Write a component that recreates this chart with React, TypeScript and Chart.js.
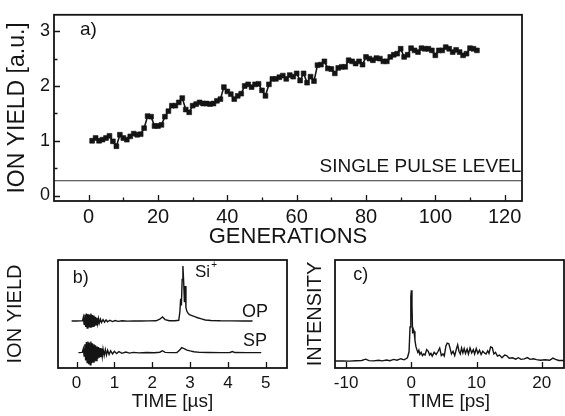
import React, { useEffect, useRef } from "react";
import { Chart, registerables } from "chart.js";

Chart.register(...registerables);

const FONT = "'Liberation Sans', Arial, Helvetica, sans-serif";
const INK = "#141414";

// ---------- Panel a) ion yield vs. generations ----------
const A_GENERATIONS = [
  1, 2, 3, 4, 5, 6, 7, 8, 9, 10, 11, 12, 13, 14, 15, 16, 17, 18, 19, 20,
  21, 22, 23, 24, 25, 26, 27, 28, 29, 30, 31, 32, 33, 34, 35, 36, 37, 38, 39, 40,
  41, 42, 43, 44, 45, 46, 47, 48, 49, 50, 51, 52, 53, 54, 55, 56, 57, 58, 59, 60,
  61, 62, 63, 64, 65, 66, 67, 68, 69, 70, 71, 72, 73, 74, 75, 76, 77, 78, 79, 80,
  81, 82, 83, 84, 85, 86, 87, 88, 89, 90, 91, 92, 93, 94, 95, 96, 97, 98, 99, 100,
  101, 102, 103, 104, 105, 106, 107, 108, 109, 110, 111, 112,
];
const A_ION_YIELD = [
  1.0, 1.05, 1.0, 1.02, 1.05, 1.09, 0.99, 0.9, 1.11, 1.05,
  1.02, 1.08, 1.13, 1.11, 1.12, 1.23, 1.45, 1.44, 1.27, 1.27,
  1.29, 1.44, 1.54, 1.64, 1.64, 1.7, 1.78, 1.57, 1.52, 1.64,
  1.67, 1.7, 1.68, 1.68, 1.67, 1.68, 1.73, 1.76, 1.98, 1.9,
  1.85, 1.76, 1.82, 1.86, 2.0, 2.03, 1.98, 2.03, 2.04, 1.92,
  1.82, 2.03, 2.13, 2.13, 2.16, 2.19, 2.13, 2.2, 2.17, 2.23,
  2.1, 2.23, 2.06, 2.17, 2.09, 2.38, 2.39, 2.45, 2.32, 2.31,
  2.23, 2.33, 2.35, 2.35, 2.47, 2.45, 2.41, 2.45, 2.39, 2.53,
  2.5, 2.47, 2.51, 2.5, 2.45, 2.45, 2.53, 2.57, 2.59, 2.68,
  2.53, 2.57, 2.69, 2.65, 2.62, 2.69, 2.68, 2.68, 2.65, 2.56,
  2.65, 2.65, 2.71, 2.68, 2.62, 2.66, 2.62, 2.56, 2.59, 2.69, 2.68, 2.65,
];
const A_SINGLE_PULSE_LEVEL = 0.27;
const A_X_RANGE = [-10, 125];
const A_Y_RANGE = [-0.1, 3.3];
const A_X_TICKS = [0, 20, 40, 60, 80, 100, 120];
const A_X_MINOR = [10, 30, 50, 70, 90, 110];
const A_Y_TICKS = [0, 1, 2, 3];
const A_Y_MINOR = [0.5, 1.5, 2.5];

// ---------- Panel b) time-of-flight traces ----------
const B_OP_TIME = [
  -0.13, 0.0, 0.1, 0.16, 0.18, 0.2, 0.22, 0.24, 0.26, 0.28, 0.3, 0.32, 0.34, 0.36, 0.38, 0.4,
  0.42, 0.44, 0.46, 0.48, 0.5, 0.52, 0.54, 0.56, 0.58, 0.6, 0.63, 0.66, 0.7, 0.74, 0.78, 0.82,
  0.88, 0.95, 1.02, 1.1, 1.2, 1.35, 1.5, 1.7, 1.9, 2.1, 2.2, 2.27, 2.34, 2.45, 2.6, 2.7,
  2.73, 2.75, 2.77, 2.79, 2.81, 2.83, 2.85, 2.87, 2.89, 2.91, 2.94, 2.98, 3.05, 3.12, 3.2, 3.3,
  3.4, 3.55, 3.8, 4.1, 4.4, 4.65,
];
const B_OP_SIGNAL = [
  4.35, 4.35, 4.36, 4.38, 4.7, 4.05, 4.95, 3.8, 5.05, 3.7, 5.0, 3.75, 4.95, 3.8, 5.05, 3.75,
  4.9, 3.85, 4.85, 3.9, 4.75, 4.0, 4.65, 4.1, 4.55, 4.15, 4.52, 4.22, 4.48, 4.25, 4.45, 4.28,
  4.42, 4.3, 4.4, 4.32, 4.38, 4.34, 4.36, 4.35, 4.36, 4.37, 4.52, 4.72, 4.48, 4.38, 4.38, 4.42,
  5.2, 6.4, 5.8, 8.2, 9.45, 8.0, 6.1, 7.6, 5.6, 5.3, 5.1, 4.95, 4.85, 4.75, 4.65, 4.55,
  4.45, 4.4, 4.37, 4.36, 4.35, 4.35,
];
const B_SP_TIME = [
  0.05, 0.15, 0.18, 0.2, 0.22, 0.24, 0.26, 0.28, 0.3, 0.32, 0.34, 0.36, 0.38, 0.4, 0.42, 0.44,
  0.46, 0.48, 0.5, 0.52, 0.54, 0.56, 0.58, 0.6, 0.62, 0.64, 0.66, 0.68, 0.7, 0.73, 0.76, 0.79,
  0.82, 0.86, 0.9, 0.95, 1.0, 1.06, 1.12, 1.2, 1.3, 1.4, 1.5, 1.65, 1.85, 2.05, 2.2, 2.27,
  2.34, 2.5, 2.65, 2.72, 2.78, 2.84, 2.92, 3.0, 3.1, 3.25, 3.5, 3.8, 4.05, 4.12, 4.18, 4.5, 4.88,
];
const B_SP_SIGNAL = [
  1.42, 1.44, 1.8, 1.1, 2.2, 0.7, 2.4, 0.5, 2.45, 0.35, 2.35, 0.3, 2.45, 0.45, 2.3, 0.55,
  2.2, 0.6, 2.1, 0.7, 2.0, 0.85, 1.95, 0.95, 1.85, 1.0, 1.8, 1.1, 1.75, 1.15, 1.7, 1.2,
  1.65, 1.25, 1.6, 1.3, 1.55, 1.33, 1.52, 1.36, 1.48, 1.38, 1.45, 1.4, 1.43, 1.41, 1.46, 1.6,
  1.45, 1.42, 1.44, 1.65, 1.88, 1.8, 1.66, 1.58, 1.5, 1.45, 1.43, 1.42, 1.44, 1.52, 1.43, 1.42, 1.42,
];
const B_X_RANGE = [-0.49, 5.56];
const B_Y_RANGE = [0, 10];
const B_X_TICKS = [0, 1, 2, 3, 4, 5];

// ---------- Panel c) pulse intensity ----------
const C_TIME = [
  -11.7, -10.5, -9.5, -8.5, -7.6, -7.0, -6.5, -5.8, -5.0, -4.5, -3.8, -3.3, -2.7, -2.2, -1.6, -1.1,
  -0.6, -0.35, -0.2, -0.08, 0.0, 0.1, 0.2, 0.3, 0.42, 0.55, 0.7, 0.85, 1.0, 1.15, 1.3, 1.5,
  1.7, 1.9, 2.1, 2.35, 2.6, 2.8, 3.0, 3.2, 3.5, 3.8, 4.1, 4.35, 4.6, 4.85, 5.05, 5.3,
  5.5, 5.75, 5.95, 6.15, 6.4, 6.65, 6.9, 7.1, 7.3, 7.5, 7.7, 7.9, 8.1, 8.3, 8.55, 8.75,
  9.0, 9.25, 9.5, 9.7, 9.95, 10.2, 10.45, 10.7, 10.95, 11.2, 11.45, 11.7, 11.9, 12.15, 12.4, 12.65,
  12.9, 13.2, 13.5, 13.9, 14.3, 14.6, 15.0, 15.5, 16.0, 16.4, 16.8, 17.3, 17.8, 18.2, 18.7, 19.2,
  19.8, 20.5, 21.2, 21.7, 22.1, 22.6, 23.4,
];
const C_INTENSITY = [
  0.65, 0.66, 0.64, 0.67, 0.7, 0.82, 0.68, 0.66, 0.72, 0.66, 0.74, 0.68, 0.8, 0.72, 0.86, 0.76,
  0.95, 1.5, 3.8, 6.6, 7.2, 5.8, 3.2, 3.6, 3.4, 2.6, 2.0, 1.7, 1.45, 1.65, 1.25, 1.45,
  1.15, 1.3, 1.2, 1.7, 1.55, 1.2, 1.35, 1.1, 1.45, 1.25, 1.55, 1.85, 1.15, 1.3, 1.1, 2.05,
  2.3, 2.25, 1.8, 1.3, 1.55, 1.15, 1.75, 2.15, 1.55, 1.3, 1.85, 1.4, 1.8, 1.35, 1.75, 1.3,
  1.85, 1.4, 1.7, 1.3, 1.8, 1.35, 1.65, 1.25, 1.55, 1.4, 1.3, 1.6, 1.35, 1.95, 1.9, 1.3,
  1.45, 1.1, 1.2, 0.95, 1.2, 1.15, 0.9, 0.95, 0.82, 0.95, 0.8, 0.85, 0.96, 0.8, 0.86, 0.78,
  0.72, 0.76, 0.72, 0.92, 0.8, 0.7, 0.7,
];
const C_X_RANGE = [-11.7, 23.4];
const C_Y_RANGE = [0, 10];
const C_X_TICKS = [-10, 0, 10, 20];

type Note = { text: string; x: number; y: number; align: CanvasTextAlign; size: number; sup?: string };

function decor(xMajor: number[], xMinor: number[], yMajor: number[], yMinor: number[], notes: Note[]) {
  return {
    id: "decor",
    afterDatasetsDraw(chart: any) {
      const { ctx, chartArea: a, scales } = chart;
      const sx = scales.x;
      const sy = scales.y;
      ctx.save();
      ctx.strokeStyle = INK;
      ctx.lineWidth = 1.3;
      ctx.beginPath();
      const xt = (v: number, len: number) => {
        const p = Math.round(sx.getPixelForValue(v)) + 0.5;
        ctx.moveTo(p, a.bottom);
        ctx.lineTo(p, a.bottom - len);
      };
      const yt = (v: number, len: number) => {
        const q = Math.round(sy.getPixelForValue(v)) + 0.5;
        ctx.moveTo(a.left, q);
        ctx.lineTo(a.left + len, q);
      };
      xMajor.forEach((v) => xt(v, 6));
      xMinor.forEach((v) => xt(v, 3.5));
      yMajor.forEach((v) => yt(v, 6));
      yMinor.forEach((v) => yt(v, 3.5));
      ctx.stroke();
      ctx.lineWidth = 1.8;
      ctx.strokeRect(a.left, a.top, a.right - a.left, a.bottom - a.top);
      ctx.fillStyle = INK;
      ctx.textBaseline = "middle";
      notes.forEach((n) => {
        const px = sx.getPixelForValue(n.x);
        const py = sy.getPixelForValue(n.y);
        ctx.font = `${n.size}px ${FONT}`;
        ctx.textAlign = n.align;
        ctx.fillText(n.text, px, py);
        if (n.sup) {
          const w = ctx.measureText(n.text).width;
          ctx.font = `${Math.round(n.size * 0.6)}px ${FONT}`;
          ctx.textAlign = "left";
          ctx.fillText(n.sup, px + w + 1, py - n.size * 0.38);
        }
      });
      ctx.restore();
    },
  };
}

function xScale(range: number[], ticks: number[], title: string, tickSize: number, titleSize: number, pad: number, height: number, titleBottom: number) {
  return {
    type: "linear",
    min: range[0],
    max: range[1],
    grid: { display: false, drawTicks: false },
    border: { display: false },
    afterBuildTicks: (s: any) => {
      s.ticks = ticks.map((v) => ({ value: v }));
    },
    afterFit: (s: any) => {
      s.height = height;
    },
    ticks: { padding: pad, color: INK, autoSkip: false, maxRotation: 0, font: { size: tickSize, family: FONT } },
    title: { display: true, text: title, color: INK, font: { size: titleSize, family: FONT }, padding: { top: 0, bottom: titleBottom } },
  };
}

function yScale(range: number[], ticks: number[] | null, title: string, tickSize: number, titleSize: number, width: number, titleTop: number) {
  return {
    type: "linear",
    min: range[0],
    max: range[1],
    grid: { display: false, drawTicks: false },
    border: { display: false },
    afterBuildTicks: (s: any) => {
      if (ticks) s.ticks = ticks.map((v) => ({ value: v }));
    },
    afterFit: (s: any) => {
      s.width = width;
    },
    ticks: { display: !!ticks, padding: 4, color: INK, font: { size: tickSize, family: FONT } },
    title: { display: true, text: title, color: INK, font: { size: titleSize, family: FONT }, padding: { top: titleTop, bottom: 0 } },
  };
}

const lineDs = (xs: number[], ys: number[]) => ({
  data: xs.map((x, i) => ({ x, y: ys[i] })),
  borderColor: INK,
  borderWidth: 1.4,
  pointRadius: 0,
  tension: 0,
});

function configA() {
  return {
    type: "line",
    data: {
      datasets: [
        {
          data: A_GENERATIONS.map((g, i) => ({ x: g, y: A_ION_YIELD[i] })),
          borderColor: INK,
          borderWidth: 1.6,
          backgroundColor: INK,
          pointStyle: "rect",
          pointRadius: 3.4,
          pointBorderWidth: 0.6,
          pointBackgroundColor: INK,
          tension: 0,
        },
        {
          data: [
            { x: A_X_RANGE[0], y: A_SINGLE_PULSE_LEVEL },
            { x: A_X_RANGE[1], y: A_SINGLE_PULSE_LEVEL },
          ],
          borderColor: "#333",
          borderWidth: 1,
          pointRadius: 0,
        },
      ],
    },
    options: {
      responsive: false,
      animation: false,
      devicePixelRatio: 1,
      layout: { padding: { left: 0, top: 7, right: 43, bottom: 0 } },
      plugins: { legend: { display: false }, tooltip: { enabled: false } },
      scales: {
        x: xScale(A_X_RANGE, A_X_TICKS, "GENERATIONS", 20, 22, 4, 49, 0),
        y: yScale(A_Y_RANGE, A_Y_TICKS, "ION YIELD [a.u.]", 18, 23, 54, 4),
      },
    },
    plugins: [
      decor(A_X_TICKS, A_X_MINOR, A_Y_TICKS, A_Y_MINOR, [
        { text: "a)", x: -2.5, y: 3.02, align: "left", size: 19 },
        { text: "SINGLE PULSE LEVEL", x: 124.8, y: 0.52, align: "right", size: 19 },
      ]),
    ],
  };
}

function configB() {
  return {
    type: "line",
    data: { datasets: [lineDs(B_OP_TIME, B_OP_SIGNAL), lineDs(B_SP_TIME, B_SP_SIGNAL)] },
    options: {
      responsive: false,
      animation: false,
      devicePixelRatio: 1,
      layout: { padding: { left: 0, top: 10, right: 3, bottom: 0 } },
      plugins: { legend: { display: false }, tooltip: { enabled: false } },
      scales: {
        x: xScale(B_X_RANGE, B_X_TICKS, "TIME [µs]", 17, 19, 5, 48, 3),
        y: yScale(B_Y_RANGE, null, "ION YIELD", 16, 20, 58, 3),
      },
    },
    plugins: [
      decor(B_X_TICKS, [], [], [], [
        { text: "b)", x: -0.1, y: 8.33, align: "left", size: 18 },
        { text: "Si", x: 3.13, y: 8.9, align: "left", size: 17, sup: "+" },
        { text: "OP", x: 4.37, y: 5.19, align: "left", size: 18 },
        { text: "SP", x: 4.4, y: 2.5, align: "left", size: 18 },
      ]),
    ],
  };
}

function configC() {
  return {
    type: "line",
    data: { datasets: [lineDs(C_TIME, C_INTENSITY)] },
    options: {
      responsive: false,
      animation: false,
      devicePixelRatio: 1,
      layout: { padding: { left: 0, top: 10, right: 1, bottom: 0 } },
      plugins: { legend: { display: false }, tooltip: { enabled: false } },
      scales: {
        x: xScale(C_X_RANGE, C_X_TICKS, "TIME [ps]", 17, 19, 5, 48, 3),
        y: yScale(C_Y_RANGE, null, "INTENSITY", 16, 20, 45, 13),
      },
    },
    plugins: [decor(C_X_TICKS, [], [], [], [{ text: "c)", x: -8.9, y: 8.6, align: "left", size: 18 }])],
  };
}

function Panel({ make, left, top, width, height }: { make: () => any; left: number; top: number; width: number; height: number }) {
  const ref = useRef<HTMLCanvasElement>(null);
  useEffect(() => {
    const chart = new Chart(ref.current as HTMLCanvasElement, make());
    return () => chart.destroy();
  }, [make]);
  return (
    <canvas
      ref={ref}
      width={width}
      height={height}
      style={{ position: "absolute", left, top, width, height, display: "block" }}
    />
  );
}

export default function App() {
  return (
    <div style={{ position: "fixed", left: 0, top: 0, width: 565, height: 416, background: "#fff", overflow: "hidden" }}>
      <Panel make={configA} left={0} top={0} width={565} height={250} />
      <Panel make={configB} left={0} top={250} width={290} height={166} />
      <Panel make={configC} left={290} top={250} width={275} height={166} />
    </div>
  );
}
